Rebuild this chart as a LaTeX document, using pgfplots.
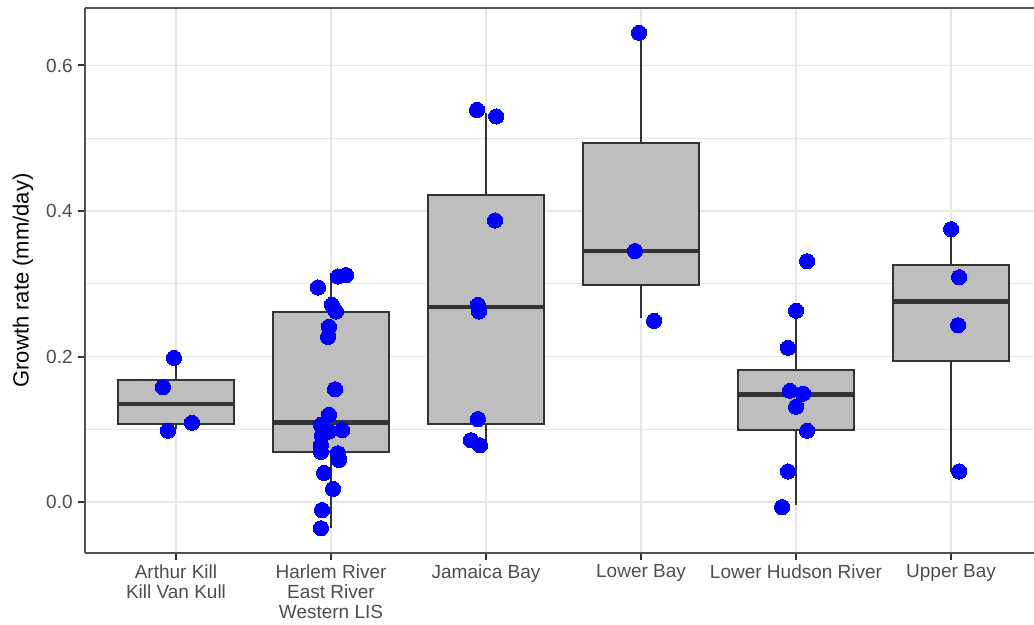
\documentclass[border=0pt]{standalone}
\usepackage{fontspec}
\setmainfont{Liberation Sans}
\usepackage{pgfplots}
\pgfplotsset{compat=1.18}

\definecolor{boxfill}{RGB}{190,190,190}
\definecolor{boxline}{RGB}{51,51,51}
\definecolor{gridc}{RGB}{230,230,230}
\definecolor{tickc}{RGB}{77,77,77}
\definecolor{ptblue}{RGB}{0,0,255}

% #1 left, #2 centre, #3 right, #4 lower whisker, #5 lower quartile, #6 median, #7 upper quartile, #8 upper whisker
\newcommand\gbox[8]{%
  \addplot[boxline, line width=1.1pt] coordinates {(#2,#4) (#2,#5)};
  \addplot[boxline, line width=1.1pt] coordinates {(#2,#7) (#2,#8)};
  \addplot[draw=boxline, fill=boxfill, line width=1.1pt, line join=miter] coordinates {(#1,#5) (#3,#5) (#3,#7) (#1,#7)} -- cycle;
  \addplot[boxline, line width=2.3pt] coordinates {(#1,#6) (#3,#6)};
}

\begin{document}
\begin{tikzpicture}
\begin{axis}[
  scale only axis,
  width=474.5pt, height=272.5pt,
  xmin=0.413, xmax=6.535,
  ymin=-0.070, ymax=0.679,
  axis lines*=left,
  axis line style={boxline!85, line width=1pt},
  tick align=outside,
  major tick length=3.5pt,
  tick style={boxline, line width=1pt},
  minor tick length=0pt,
  xtick={1,2,3,4,5,6},
  xticklabels={{Arthur Kill\\Kill Van Kull},{Harlem River\\East River\\Western LIS},{Jamaica Bay},{Lower Bay},{Lower Hudson River},{Upper Bay}},
  xticklabel style={align=center, font=\fontsize{9.5}{10}\selectfont, text=tickc, inner sep=2pt},
  ytick={0,0.2,0.4,0.6},
  minor ytick={0.1,0.3,0.5},
  yticklabel style={font=\fontsize{9.5}{10}\selectfont, text=tickc, inner sep=2.5pt,
    /pgf/number format/fixed, /pgf/number format/precision=1, /pgf/number format/fixed zerofill,
    /pgf/number format/assume math mode=true},
  xmajorgrids, ymajorgrids, yminorgrids,
  major grid style={gridc, line width=0.9pt},
  minor grid style={gridc, line width=0.7pt},
  ylabel={Growth rate (mm/day)},
  every axis y label/.style={at={(axis description cs:-0.0653,0.5)}, rotate=90, anchor=center, font=\fontsize{11}{12}\selectfont},
]
\draw[boxline!85, line width=1pt] (rel axis cs:0,1) -- (rel axis cs:1,1);

\gbox{0.625}{1}{1.375}{0.100}{0.107}{0.135}{0.168}{0.198}
\gbox{1.625}{2}{2.375}{-0.036}{0.069}{0.109}{0.261}{0.312}
\gbox{2.625}{3}{3.375}{0.078}{0.107}{0.268}{0.422}{0.535}
\gbox{3.625}{4}{4.375}{0.253}{0.298}{0.345}{0.494}{0.645}
\gbox{4.625}{5}{5.375}{-0.004}{0.099}{0.148}{0.181}{0.263}
\gbox{5.625}{6}{6.375}{0.042}{0.194}{0.276}{0.326}{0.375}

% jittered observations
\addplot[only marks, ptblue, mark=*, mark size=3.8pt, mark options={draw=ptblue, fill=ptblue, line width=0pt}] coordinates {
  (0.916,0.158) (0.948,0.098) (1.103,0.109) (0.987,0.198)
  (1.916,0.295) (2.045,0.310) (2.097,0.312) (2.006,0.271) (2.032,0.262)
  (1.987,0.241) (1.981,0.227) (2.026,0.155) (1.987,0.120) (1.935,0.106)
  (1.987,0.097) (2.071,0.099) (1.942,0.092) (1.935,0.078) (1.935,0.069)
  (2.045,0.067) (2.052,0.058) (1.955,0.040) (2.013,0.018) (1.942,-0.011)
  (1.935,-0.036)
  (2.942,0.539) (3.065,0.530) (3.058,0.387) (2.948,0.271) (2.955,0.262)
  (2.948,0.114) (2.903,0.085) (2.961,0.078)
  (3.987,0.645) (3.961,0.345) (4.084,0.249)
  (5.071,0.331) (5.000,0.263) (4.948,0.212) (4.961,0.153) (5.045,0.149)
  (5.000,0.131) (5.071,0.098) (4.948,0.042) (4.910,-0.007)
  (6.000,0.375) (6.052,0.309) (6.045,0.243) (6.052,0.042)
};
\end{axis}
\pgfresetboundingbox
\path ([xshift=-42.5pt,yshift=-36pt]current axis.south west) rectangle ([yshift=4pt]current axis.north east);
\end{tikzpicture}
\end{document}
